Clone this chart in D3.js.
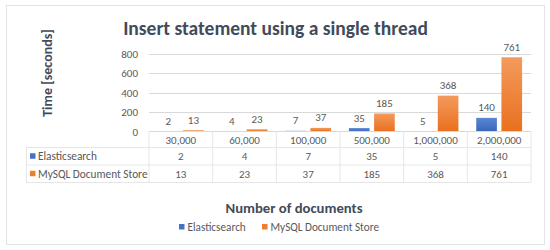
<!DOCTYPE html>
<html>
<head>
<meta charset="utf-8">
<script src="https://cdn.jsdelivr.net/npm/d3@7"></script>
<style>
  body { margin: 0; background: #fff; }
  text { font-family: Carlito, Calibri, Lato, "Open Sans", sans-serif; }
</style>
</head>
<body>
<div id="chart"></div>
<script>
var width = 550;
var height = 250;

// values
var categories = ["30,000", "60,000", "100,000", "500,000", "1,000,000", "2,000,000"];
var seriesNames = ["Elasticsearch", "MySQL Document Store"];
var elasticValues = [2, 4, 7, 35, 5, 140];
var mysqlValues = [13, 23, 37, 185, 368, 761];
var yTicks = [0, 200, 400, 600, 800];

var seriesValues = [elasticValues, mysqlValues];
var colors = ["#4472c4", "#ed7d31"];
var textColor = "#595959";
var titleColor = "#414b5a";
var lineColor = "#d9d9d9";

var svg = d3.select("#chart").append("svg")
  .attr("width", width)
  .attr("height", height);

// gradients so the bars look like the excel ones
var defs = svg.append("defs");
var gradStops = [["#5b87d6", "#3a66b8"], ["#f39a5c", "#e9701f"]];
gradStops.forEach(function(s, i) {
  var g = defs.append("linearGradient").attr("id", "grad" + i)
    .attr("x1", 0).attr("y1", 0).attr("x2", 0).attr("y2", 1);
  g.append("stop").attr("offset", "0%").attr("stop-color", s[0]);
  g.append("stop").attr("offset", "100%").attr("stop-color", s[1]);
});

// outer frame
svg.append("rect")
  .attr("x", 6.5).attr("y", 5.5)
  .attr("width", 538).attr("height", 239)
  .attr("fill", "#fff")
  .attr("stroke", "#e3e3e3");

var x = d3.scaleBand().domain(categories).range([149, 531]);
var xInner = d3.scaleBand().domain(seriesNames)
  .range([0.14 * x.bandwidth(), 0.86 * x.bandwidth()])
  .paddingInner(0.18);
var y = d3.scaleLinear().domain([0, 800]).range([131.5, 53.5]);

// gridlines
svg.append("g").selectAll("line")
  .data(yTicks.slice(1))
  .join("line")
  .attr("x1", 149).attr("x2", 531)
  .attr("y1", d => Math.round(y(d)) + 0.5)
  .attr("y2", d => Math.round(y(d)) + 0.5)
  .attr("stroke", lineColor);

// y axis labels
svg.append("g").selectAll("text")
  .data(yTicks)
  .join("text")
  .attr("x", 138)
  .attr("y", d => y(d) + 4)
  .attr("text-anchor", "end")
  .attr("font-size", 11)
  .attr("fill", textColor)
  .text(d => d);

// bars
var groups = svg.append("g").selectAll("g")
  .data(seriesNames)
  .join("g")
  .attr("fill", (d, i) => "url(#grad" + i + ")");

groups.selectAll("rect")
  .data((s, i) => seriesValues[i].map((v, j) => ({ s: s, v: v, c: categories[j] })))
  .join("rect")
  .attr("x", d => x(d.c) + xInner(d.s))
  .attr("width", xInner.bandwidth())
  .attr("y", d => y(d.v))
  .attr("height", d => y(0) - y(d.v));

// data labels
var labels = svg.append("g");
seriesNames.forEach(function(s, i) {
  labels.selectAll(".lab" + i)
    .data(seriesValues[i])
    .join("text")
    .attr("class", "lab" + i)
    .attr("x", (d, j) => x(categories[j]) + xInner(s) + xInner.bandwidth() / 2)
    .attr("y", d => y(d) - 6.5)
    .attr("text-anchor", "middle")
    .attr("font-size", 11)
    .attr("fill", textColor)
    .text(d => d);
});

// data table
var rowTop = [131.5, 147.5, 165, 182.5];
var tableLeft = 26;
var table = svg.append("g").attr("stroke", "#e6e6e6").attr("fill", "none");
// horizontal lines
table.append("line").attr("x1", 149).attr("x2", 531).attr("y1", rowTop[0]).attr("y2", rowTop[0]).attr("stroke", lineColor);
[1, 2, 3].forEach(function(r) {
  table.append("line").attr("x1", tableLeft).attr("x2", 531).attr("y1", rowTop[r]).attr("y2", rowTop[r]);
});
// vertical lines
table.selectAll(".v")
  .data(categories.concat(["end"]))
  .join("line")
  .attr("class", "v")
  .attr("x1", d => d === "end" ? 531 : x(d))
  .attr("x2", d => d === "end" ? 531 : x(d))
  .attr("y1", rowTop[0]).attr("y2", rowTop[3]);
table.append("line").attr("x1", tableLeft + 0.5).attr("x2", tableLeft + 0.5).attr("y1", rowTop[1]).attr("y2", rowTop[3]);

// header row
svg.append("g").selectAll("text")
  .data(categories)
  .join("text")
  .attr("x", d => x(d) + x.bandwidth() / 2)
  .attr("y", (rowTop[0] + rowTop[1]) / 2 + 4)
  .attr("text-anchor", "middle")
  .attr("font-size", 11)
  .attr("fill", textColor)
  .text(d => d);

// series rows
seriesNames.forEach(function(s, i) {
  var cy = (rowTop[i + 1] + rowTop[i + 2]) / 2;
  svg.append("rect")
    .attr("x", 30).attr("y", cy - 3)
    .attr("width", 5.5).attr("height", 5.5)
    .attr("fill", colors[i]);
  svg.append("text")
    .attr("x", 38).attr("y", cy + 4)
    .attr("font-size", 11.3)
    .attr("fill", textColor)
    .text(s);
  svg.append("g").selectAll("text")
    .data(seriesValues[i])
    .join("text")
    .attr("x", (d, j) => x(categories[j]) + x.bandwidth() / 2)
    .attr("y", cy + 4)
    .attr("text-anchor", "middle")
    .attr("font-size", 11)
    .attr("fill", textColor)
    .text(d => d);
});

// titles
svg.append("text")
  .attr("x", 275.5).attr("y", 35)
  .attr("text-anchor", "middle")
  .attr("font-size", 19.5)
  .attr("font-weight", "bold")
  .attr("fill", titleColor)
  .text("Insert statement using a single thread");

svg.append("text")
  .attr("transform", "translate(52,73) rotate(-90)")
  .attr("text-anchor", "middle")
  .attr("font-size", 14)
  .attr("font-weight", "bold")
  .attr("fill", titleColor)
  .text("Time [seconds]");

svg.append("text")
  .attr("x", 294).attr("y", 212.5)
  .attr("text-anchor", "middle")
  .attr("font-size", 14.7)
  .attr("font-weight", "bold")
  .attr("fill", titleColor)
  .text("Number of documents");

// legend
var legendItems = [{ x: 179, name: seriesNames[0] }, { x: 262, name: seriesNames[1] }];
var legend = svg.append("g");
legendItems.forEach(function(d, i) {
  legend.append("rect")
    .attr("x", d.x).attr("y", 224)
    .attr("width", 5.5).attr("height", 5.5)
    .attr("fill", colors[i]);
  legend.append("text")
    .attr("x", d.x + 8.5).attr("y", 230.5)
    .attr("font-size", 11.2)
    .attr("fill", textColor)
    .text(d.name);
});
</script>
</body>
</html>
